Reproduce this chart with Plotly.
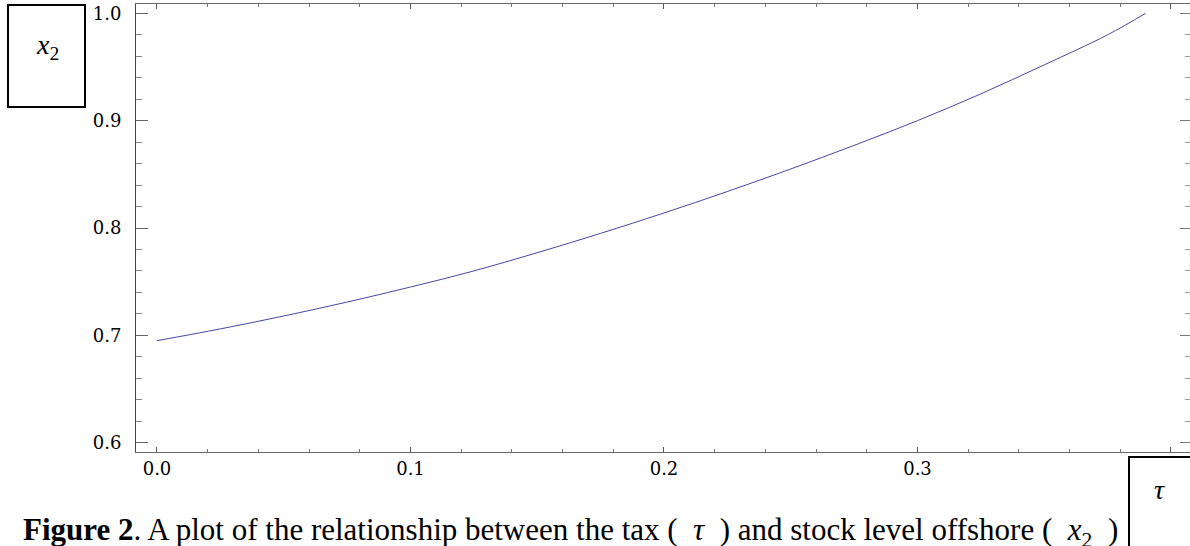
import plotly.graph_objects as go

# Data
tau = [0.000, 0.025, 0.050, 0.075, 0.100, 0.125, 0.150, 0.175, 0.200, 0.225,
       0.250, 0.275, 0.300, 0.325, 0.350, 0.375, 0.390]
x2 = [0.695, 0.706, 0.718, 0.731, 0.745, 0.760, 0.777, 0.795, 0.814, 0.834,
      0.855, 0.877, 0.900, 0.925, 0.952, 0.980, 1.000]
x_ticks = [0.0, 0.1, 0.2, 0.3, 0.4]
x_tick_labels = ["0.0", "0.1", "0.2", "0.3", ""]
y_ticks = [0.6, 0.7, 0.8, 0.9, 1.0]
y_tick_labels = ["0.6", "0.7", "0.8", "0.9", "1.0"]

W, H = 1190, 546
L, R, T, B = 136, 0, 4, 94
PW, PH = W - L - R, H - T - B
XR = [-0.00828, 0.4075]
YR = [0.5913, 1.0087]


def px(x):
    return (x - L) / PW


def py(y):
    return (H - B - y) / PH


fig = go.Figure()
fig.add_trace(go.Scatter(x=tau, y=x2, mode="lines", line=dict(color="#4646a8", width=1),
                         line_shape="spline", showlegend=False, hoverinfo="skip"))
# invisible trace to activate secondary (mirror) axes
fig.add_trace(go.Scatter(x=[tau[0]], y=[x2[0]], xaxis="x2", yaxis="y2", mode="markers",
                         marker=dict(opacity=0), showlegend=False, hoverinfo="skip"))

tickfont = dict(family="DejaVu Serif", size=18, color="#000")
fig.update_layout(
    width=W, height=H, margin=dict(l=L, r=R, t=T, b=B, pad=0),
    paper_bgcolor="white", plot_bgcolor="white",
    xaxis=dict(range=XR, tickvals=x_ticks, ticktext=x_tick_labels, ticks="inside",
               ticklen=5, tickcolor="#555", tickwidth=1, showgrid=False, zeroline=False,
               showline=True, linecolor="#666", linewidth=1, tickfont=tickfont,
               minor=dict(dtick=0.02, ticks="inside", ticklen=3, tickcolor="#777"),
               ticklabelstandoff=0),
    yaxis=dict(range=YR, tickvals=y_ticks, ticktext=y_tick_labels, ticks="inside",
               ticklen=12, tickcolor="#666", tickwidth=1, showgrid=False, zeroline=False,
               showline=True, linecolor="#444", linewidth=1, tickfont=tickfont,
               minor=dict(dtick=0.02, ticks="inside", ticklen=6, tickcolor="#888"),
               ticklabelstandoff=10),
    xaxis2=dict(range=XR, overlaying="x", side="top", tickvals=x_ticks, showticklabels=False,
                ticks="inside", ticklen=5, tickcolor="#555", showgrid=False, zeroline=False,
                showline=True, linecolor="#666", linewidth=1,
                minor=dict(dtick=0.02, ticks="inside", ticklen=3, tickcolor="#777")),
    yaxis2=dict(range=YR, overlaying="y", side="right", tickvals=y_ticks, showticklabels=False,
                ticks="inside", ticklen=10, tickcolor="#777", showgrid=False, zeroline=False,
                showline=False,
                minor=dict(dtick=0.02, ticks="inside", ticklen=5, tickcolor="#999")),
)

# label boxes
fig.add_shape(type="rect", xref="paper", yref="paper", x0=px(8), x1=px(85), y0=py(107), y1=py(5),
              line=dict(color="black", width=2), fillcolor="white")
fig.add_shape(type="rect", xref="paper", yref="paper", x0=px(1129), x1=px(1200), y0=py(560), y1=py(457),
              line=dict(color="black", width=2), fillcolor="white")

fig.add_annotation(xref="paper", yref="paper", x=px(47), y=py(46), text="<i>x</i><sub>2</sub>",
                   showarrow=False, font=dict(family="Liberation Serif", size=28, color="black"),
                   xanchor="center", yanchor="middle")
fig.add_annotation(xref="paper", yref="paper", x=px(1159), y=py(489), text="<i>τ</i>",
                   showarrow=False, font=dict(family="Liberation Serif", size=28, color="black"),
                   xanchor="center", yanchor="middle")
fig.add_annotation(xref="paper", yref="paper", x=px(21), y=py(532),
                   text="<b>Figure 2</b>. A plot of the relationship between the tax (  <i>τ</i>  ) and stock level offshore (  <i>x</i><sub>2</sub>  )",
                   showarrow=False, font=dict(family="Liberation Serif", size=31, color="black"),
                   xanchor="left", yanchor="middle")

fig.write_html("out.html", post_script="document.body.style.margin='0';",
               config={"displayModeBar": False})
